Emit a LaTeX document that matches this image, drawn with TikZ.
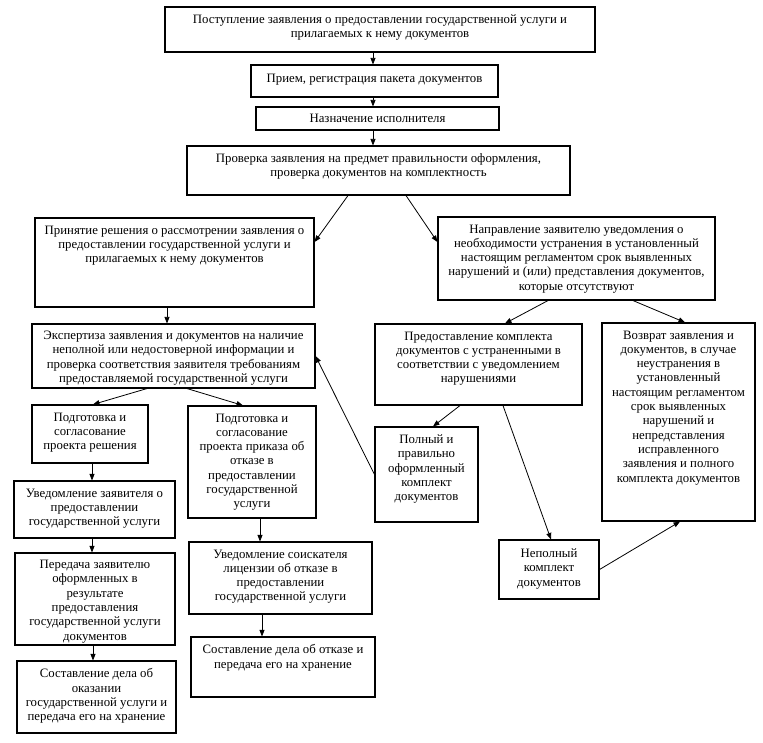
\documentclass[tikz,border=0pt]{standalone}
\usepackage{fontspec}
\setmainfont{Liberation Serif}
\usetikzlibrary{arrows.meta,calc}
\begin{document}
\begin{tikzpicture}[x=1pt,y=-1pt,
  box/.style={draw, line width=1.1pt, rectangle, inner sep=0pt},
  txt/.style={align=center, inner sep=0pt, font=\fontsize{12.8}{14.3}\selectfont},
  arr/.style={-{Triangle[length=6.5pt,width=5pt]}, line width=0.8pt}]
\useasboundingbox (0,0) rectangle (763,743);
\fill[white] (0,0) rectangle (763,743);
% boxes
\node[box, minimum width=430pt, minimum height=45pt] (b1) at (380,29.5) {};
\node[box, minimum width=247pt, minimum height=32pt] (b2) at (374.5,81) {};
\node[box, minimum width=243pt, minimum height=23pt] (b3) at (377.5,118.5) {};
\node[box, minimum width=383pt, minimum height=49pt] (b4) at (378.5,170.5) {};
\node[box, minimum width=279pt, minimum height=89pt] (b5) at (174.5,262.5) {};
\node[box, minimum width=277pt, minimum height=83pt] (b6) at (576.5,258.5) {};
\node[box, minimum width=283pt, minimum height=64pt] (b7) at (173.5,356) {};
\node[box, minimum width=116pt, minimum height=58pt] (b8) at (90,434) {};
\node[box, minimum width=128pt, minimum height=112pt] (b9) at (252,462) {};
\node[box, minimum width=161pt, minimum height=57pt] (b10) at (94.5,509.5) {};
\node[box, minimum width=160pt, minimum height=92pt] (b11) at (95,599) {};
\node[box, minimum width=159pt, minimum height=72pt] (b12) at (96.5,697) {};
\node[box, minimum width=183pt, minimum height=72pt] (b13) at (280.5,578) {};
\node[box, minimum width=184pt, minimum height=60pt] (b14) at (283,667) {};
\node[box, minimum width=207pt, minimum height=81pt] (b15) at (478.5,364.5) {};
\node[box, minimum width=153pt, minimum height=198pt] (b16) at (678.5,422) {};
\node[box, minimum width=103pt, minimum height=95pt] (b17) at (426.5,474.5) {};
\node[box, minimum width=100pt, minimum height=59pt] (b18) at (549,569.5) {};
% texts
\node[txt, anchor=north] (t1) at ([yshift=-8pt]b1.north) {Поступление заявления о предоставлении государственной услуги и\\прилагаемых к нему документов};
\node[txt] (t2) at ([yshift=1pt]b2.center) {Прием, регистрация пакета документов};
\node[txt] (t3) at (b3.center) {Назначение исполнителя};
\node[txt, anchor=north] (t4) at ([yshift=-8pt]b4.north) {Проверка заявления на предмет правильности оформления,\\проверка документов на комплектность};
\node[txt, anchor=north] (t5) at ([yshift=-8pt]b5.north) {Принятие решения о рассмотрении заявления о\\предоставлении государственной услуги и\\прилагаемых к нему документов};
\node[txt, anchor=north] (t6) at ([yshift=-8pt]b6.north) {Направление заявителю уведомления о\\необходимости устранения в установленный\\настоящим регламентом срок выявленных\\нарушений и (или) представления документов,\\которые отсутствуют};
\node[txt, anchor=north] (t7) at ([yshift=-7.5pt]b7.north) {Экспертиза заявления и документов на наличие\\неполной или недостоверной информации и\\проверка соответствия заявителя требованиям\\предоставляемой государственной услуги};
\node[txt, anchor=north] (t8) at ([yshift=-8pt]b8.north) {Подготовка и\\согласование\\проекта решения};
\node[txt, anchor=north] (t9) at ([yshift=-8pt]b9.north) {Подготовка и\\согласование\\проекта приказа об\\отказе в\\предоставлении\\государственной\\услуги};
\node[txt, anchor=north] (t10) at ([yshift=-8pt]b10.north) {Уведомление заявителя о\\предоставлении\\государственной услуги};
\node[txt, anchor=north] (t11) at ([yshift=-7.5pt]b11.north) {Передача заявителю\\оформленных в\\результате\\предоставления\\государственной услуги\\документов};
\node[txt, anchor=north] (t12) at ([yshift=-8pt]b12.north) {Составление дела об\\оказании\\государственной услуги и\\передача его на хранение};
\node[txt, anchor=north] (t13) at ([yshift=-8pt]b13.north) {Уведомление соискателя\\лицензии об отказе в\\предоставлении\\государственной услуги};
\node[txt, anchor=north] (t14) at ([yshift=-8pt]b14.north) {Составление дела об отказе и\\передача его на хранение};
\node[txt, anchor=north] (t15) at ([yshift=-8pt]b15.north) {Предоставление комплекта\\документов с устраненными в\\соответствии с уведомлением\\нарушениями};
\node[txt, anchor=north] (t16) at ([yshift=-8pt]b16.north) {Возврат заявления и\\документов, в случае\\неустранения в\\установленный\\настоящим регламентом\\срок выявленных\\нарушений и\\непредставления\\исправленного\\заявления и полного\\комплекта документов};
\node[txt, anchor=north] (t17) at ([yshift=-8pt]b17.north) {Полный и\\правильно\\оформленный\\комплект\\документов};
\node[txt, anchor=north] (t18) at ([yshift=-9pt]b18.north) {Неполный\\комплект\\документов};
% helper coordinates
\coordinate (cx373) at (373,0);
\coordinate (cx167) at (167,0);
\coordinate (cx92) at (92,0);
\coordinate (cx93) at (93,0);
\coordinate (cx260) at (260,0);
\coordinate (cx262) at (262,0);
\coordinate (cy242) at (0,242);
% connectors
\draw[arr] (b1.south -| cx373) -- (b2.north -| cx373);
\draw[arr] (b2.south -| cx373) -- (b3.north -| cx373);
\draw[arr] (b3.south -| cx373) -- (b4.north -| cx373);
\draw[arr] ([xshift=-30.5pt]b4.south) -- (b5.east |- cy242);
\draw[arr] ([xshift=27.5pt]b4.south) -- (b6.west |- cy242);
\draw[arr] (b5.south -| cx167) -- (b7.north -| cx167);
\draw[arr] ([xshift=-26.5pt]b7.south) -- ([xshift=3pt]b8.north);
\draw[arr] ([xshift=13.5pt]b7.south) -- ([xshift=-9pt]b9.north);
\draw[arr] (b8.south -| cx92) -- (b10.north -| cx92);
\draw[arr] (b10.south -| cx92) -- (b11.north -| cx92);
\draw[arr] (b11.south -| cx93) -- (b12.north -| cx93);
\draw[arr] (b9.south -| cx260) -- (b13.north -| cx260);
\draw[arr] (b13.south -| cx262) -- (b14.north -| cx262);
\draw[arr] ([xshift=-28.5pt]b6.south) -- ([xshift=26.5pt]b15.north);
\draw[arr] ([xshift=56.5pt]b6.south) -- ([xshift=6.5pt]b16.north);
\draw[arr] ([xshift=-18.5pt]b15.south) -- ([xshift=6.5pt]b17.north);
\draw[arr] ([xshift=24.5pt]b15.south) -- ([xshift=2pt]b18.north);
\draw[arr] (b17.west) -- (b7.east);
\draw[arr] (b18.east) -- ([xshift=1.5pt]b16.south);
\end{tikzpicture}
\end{document}
